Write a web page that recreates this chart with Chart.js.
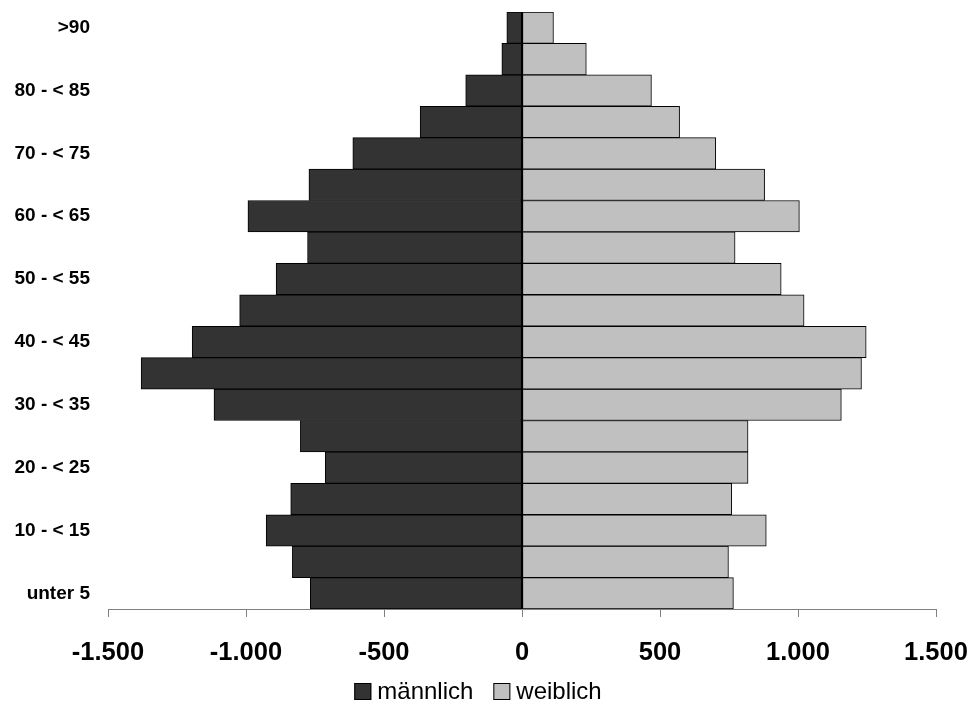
<!DOCTYPE html>
<html>
<head>
<meta charset="utf-8">
<script src="https://cdn.jsdelivr.net/npm/chart.js@4"></script>
<style>
  html, body { margin: 0; padding: 0; background: #ffffff; }
  #wrap { width: 972px; height: 707px; }
</style>
</head>
<body>
<div id="wrap"><canvas id="c" width="972" height="707"></canvas></div>
<script>
// Altersgruppen von unten (jung) nach oben (alt)
const altersgruppen = [
  'unter 5', '5 - < 10', '10 - < 15', '15 - < 20', '20 - < 25', '25 - < 30',
  '30 - < 35', '35 - < 40', '40 - < 45', '45 - < 50', '50 - < 55', '55 - < 60',
  '60 - < 65', '65 - < 70', '70 - < 75', '75 - < 80', '80 - < 85', '85 - < 90', '>90'
];
// Männer nach links (negativ), Frauen nach rechts
const maennlich = [
  -767, -832, -927, -838, -713, -803, -1116, -1380, -1195, -1023,
  -891, -777, -993, -772, -613, -369, -204, -73, -55
];
const weiblich = [
  766, 748, 885, 760, 819, 819, 1157, 1230, 1247, 1022,
  939, 772, 1005, 879, 702, 571, 469, 233, 114
];
const achsenWerte = [-1500, -1000, -500, 0, 500, 1000, 1500];

const FONT = '"Liberation Sans", Arial, Helvetica, sans-serif';

// Zahlen im deutschen Format (Tausenderpunkt)
function deZahl(v) {
  const s = Math.abs(v).toString().replace(/\B(?=(\d{3})+(?!\d))/g, '.');
  return (v < 0 ? '-' : '') + s;
}

// Randabstände der Achsen auf null setzen, damit nur layout.padding gilt
function ohneRand(scale) {
  scale.paddingTop = 0;
  scale.paddingBottom = 0;
  scale.paddingLeft = 0;
  scale.paddingRight = 0;
}

// Kräftige Mittellinie bei 0 zwischen Männer- und Frauenbalken
const nullLinie = {
  id: 'nullLinie',
  afterDatasetsDraw(chart) {
    const { ctx, chartArea, scales } = chart;
    const x0 = Math.round(scales.x.getPixelForValue(0));
    ctx.save();
    ctx.fillStyle = '#000000';
    ctx.fillRect(x0 - 1, chartArea.top, 2, chartArea.bottom - chartArea.top);
    ctx.restore();
  }
};

// Legende unter der Achse, aus den Datensätzen gezeichnet
const legendeUnten = {
  id: 'legendeUnten',
  afterDraw(chart) {
    const ctx = chart.ctx;
    const box = 17, gapText = 6, gapItem = 20;
    ctx.save();
    ctx.font = '24px ' + FONT;
    const items = chart.data.datasets.map(ds => ({
      text: ds.label, color: ds.backgroundColor, w: ctx.measureText(ds.label).width
    }));
    let total = 0;
    items.forEach((it, i) => { total += box + gapText + it.w + (i ? gapItem : 0); });
    let x = 478 - total / 2;
    const boxTop = 683, baseline = 699;
    items.forEach(it => {
      ctx.fillStyle = it.color;
      ctx.fillRect(x, boxTop, box, box);
      ctx.strokeStyle = '#000000';
      ctx.lineWidth = 1;
      ctx.strokeRect(x + 0.5, boxTop + 0.5, box - 1, box - 1);
      ctx.fillStyle = '#000000';
      ctx.textBaseline = 'alphabetic';
      ctx.textAlign = 'left';
      ctx.fillText(it.text, x + box + gapText, baseline);
      x += box + gapText + it.w + gapItem;
    });
    ctx.restore();
  }
};

new Chart(document.getElementById('c'), {
  type: 'bar',
  data: {
    labels: altersgruppen,
    datasets: [
      {
        label: 'männlich',
        data: maennlich,
        backgroundColor: '#333333',
        borderColor: '#000000',
        borderWidth: 1,
        borderSkipped: false,
        barPercentage: 1,
        categoryPercentage: 1
      },
      {
        label: 'weiblich',
        data: weiblich,
        backgroundColor: '#c0c0c0',
        borderColor: '#000000',
        borderWidth: 1,
        borderSkipped: false,
        barPercentage: 1,
        categoryPercentage: 1
      }
    ]
  },
  options: {
    indexAxis: 'y',
    responsive: false,
    animation: false,
    layout: { padding: { left: 0, right: 36, top: 12, bottom: 37 } },
    plugins: {
      legend: { display: false },
      tooltip: { enabled: false }
    },
    scales: {
      x: {
        stacked: true,
        min: -1500,
        max: 1500,
        afterBuildTicks(scale) { scale.ticks = achsenWerte.map(v => ({ value: v })); },
        afterFit(scale) { scale.height = 61; ohneRand(scale); },
        grid: {
          display: true,
          drawOnChartArea: false,
          drawTicks: true,
          tickLength: 8,
          color: '#808080',
          lineWidth: 1
        },
        border: { display: true, color: '#808080', width: 1 },
        ticks: {
          autoSkip: false,
          maxRotation: 0,
          padding: 21,
          color: '#000000',
          font: { family: FONT, size: 25.5, weight: 'bold' },
          callback: v => deZahl(v)
        }
      },
      y: {
        stacked: true,
        reverse: true,
        afterFit(scale) { scale.width = 108; ohneRand(scale); },
        grid: { display: false, drawTicks: false, tickLength: 0 },
        border: { display: false },
        ticks: {
          autoSkip: false,
          padding: 18,
          color: '#000000',
          font: { family: FONT, size: 19, weight: 'bold' },
          callback(value, index) { return index % 2 === 0 ? altersgruppen[index] : ''; }
        }
      }
    }
  },
  plugins: [nullLinie, legendeUnten]
});
</script>
</body>
</html>
